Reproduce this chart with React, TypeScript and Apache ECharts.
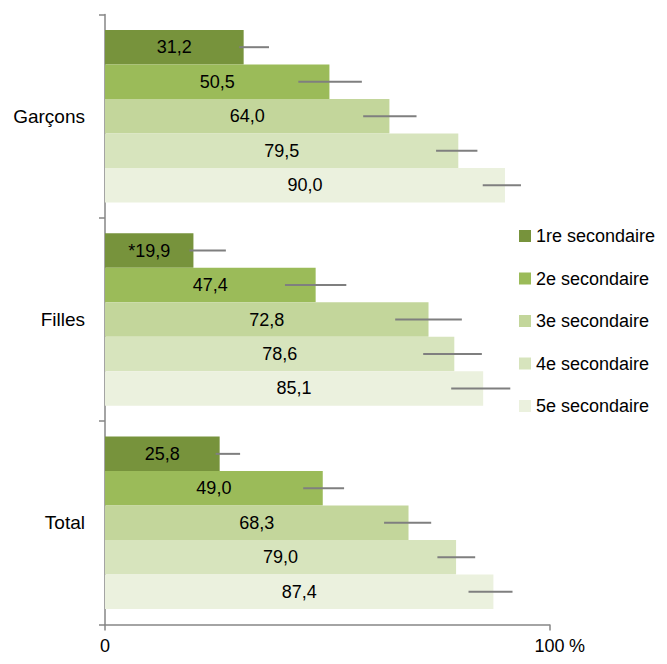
import React, { useEffect, useRef } from "react";
import * as echarts from "echarts";

const categories = ["Garçons", "Filles", "Total"];
const seriesNames = ["1re secondaire", "2e secondaire", "3e secondaire", "4e secondaire", "5e secondaire"];
const colors = ["#77933c", "#9bbb59", "#c3d69b", "#d7e4bd", "#ebf1de"];

const s1 = [31.2, 19.9, 25.8];
const s2 = [50.5, 47.4, 49.0];
const s3 = [64.0, 72.8, 68.3];
const s4 = [79.5, 78.6, 79.0];
const s5 = [90.0, 85.1, 87.4];
const values = [s1, s2, s3, s4, s5];

// flags "*" (interpret with caution)
const flag1 = ["", "*", ""];
const flag2 = ["", "", ""];
const flag3 = ["", "", ""];
const flag4 = ["", "", ""];
const flag5 = ["", "", ""];
const flags = [flag1, flag2, flag3, flag4, flag5];

// error bar bounds (low, high)
const low1 = [30.2, 19.0, 24.9];
const high1 = [36.9, 27.2, 30.4];
const low2 = [43.5, 40.5, 44.6];
const high2 = [57.8, 54.3, 53.8];
const low3 = [58.1, 65.3, 62.8];
const high3 = [70.1, 80.3, 73.4];
const low4 = [74.5, 71.6, 74.8];
const high4 = [83.8, 84.8, 83.3];
const low5 = [85.0, 77.9, 81.8];
const high5 = [93.6, 91.2, 91.7];
const lows = [low1, low2, low3, low4, low5];
const highs = [high1, high2, high3, high4, high5];

const xTickValues = [0, 100];

const FONT = "'Liberation Sans', Arial, sans-serif";
const CAT_GAP = 0.152;

export default function App() {
  const ref = useRef<HTMLDivElement>(null);
  useEffect(() => {
    if (!ref.current) return;
    const chart = echarts.init(ref.current, null, { renderer: "svg" });

    const fmt = (v: number) => v.toFixed(1).replace(".", ",");

    const barSeries = seriesNames.map((name, si) => ({
      name,
      type: "bar",
      barGap: "0%",
      barCategoryGap: (CAT_GAP * 100).toFixed(1) + "%",
      itemStyle: { color: colors[si] },
      label: {
        show: true,
        position: "inside",
        color: "#000",
        fontSize: 18,
        fontFamily: FONT,
        formatter: (p: any) => flags[si][p.dataIndex] + fmt(p.value),
      },
      data: values[si],
      z: 2,
    }));

    const errData: number[][] = [];
    for (let si = 0; si < 5; si++) {
      for (let ci = 0; ci < categories.length; ci++) {
        errData.push([ci, si, lows[si][ci], highs[si][ci]]);
      }
    }

    const errSeries = {
      type: "custom",
      name: "err",
      encode: { x: [2, 3], y: 0 },
      z: 5,
      silent: true,
      renderItem: (params: any, api: any) => {
        const ci = api.value(0);
        const si = api.value(1);
        const lo = api.value(2);
        const hi = api.value(3);
        const p1 = api.coord([lo, ci]);
        const p2 = api.coord([hi, ci]);
        const band = api.size([0, 1])[1];
        const barH = (band * (1 - CAT_GAP)) / 5;
        const off = (si - 2) * barH;
        return {
          type: "line",
          shape: { x1: p1[0], y1: p1[1] + off, x2: p2[0], y2: p1[1] + off },
          style: { stroke: "#7f7f7f", lineWidth: 2 },
        };
      },
      data: errData,
    };

    chart.setOption({
      animation: false,
      textStyle: { fontFamily: FONT },
      grid: { left: 105, right: 117.6, top: 14.5, bottom: 39.5, containLabel: false },
      legend: {
        orient: "vertical",
        left: 519,
        top: 227,
        padding: 0,
        itemWidth: 12,
        itemHeight: 12,
        itemGap: 24.5,
        icon: "rect",
        data: seriesNames,
        textStyle: { fontSize: 18, color: "#000", fontFamily: FONT, lineHeight: 18 },
      },
      xAxis: {
        type: "value",
        min: 0,
        max: 100,
        interval: 100,
        splitLine: { show: false },
        axisLine: { show: true, lineStyle: { color: "#868686", width: 1.5 } },
        axisTick: { show: true, length: 6, lineStyle: { color: "#868686", width: 1.5 } },
        axisLabel: {
          margin: 12,
          fontSize: 18,
          color: "#000",
          fontFamily: FONT,
          formatter: (v: number) => (xTickValues.includes(v) ? String(v) : ""),
        },
      },
      yAxis: {
        type: "category",
        inverse: true,
        data: categories,
        axisLine: { show: true, lineStyle: { color: "#868686", width: 1.5 } },
        axisTick: { show: true, length: 6, lineStyle: { color: "#868686", width: 1.5 } },
        axisLabel: { margin: 20, fontSize: 19, color: "#000", fontFamily: FONT },
      },
      graphic: [
        {
          type: "text",
          left: 569,
          top: 637,
          style: { text: "%", fontSize: 18, fill: "#000", fontFamily: FONT },
        },
      ],
      series: [...barSeries, errSeries],
    });

    return () => chart.dispose();
  }, []);

  return <div ref={ref} style={{ width: 667, height: 664, position: "absolute", left: 0, top: 0 }} />;
}
